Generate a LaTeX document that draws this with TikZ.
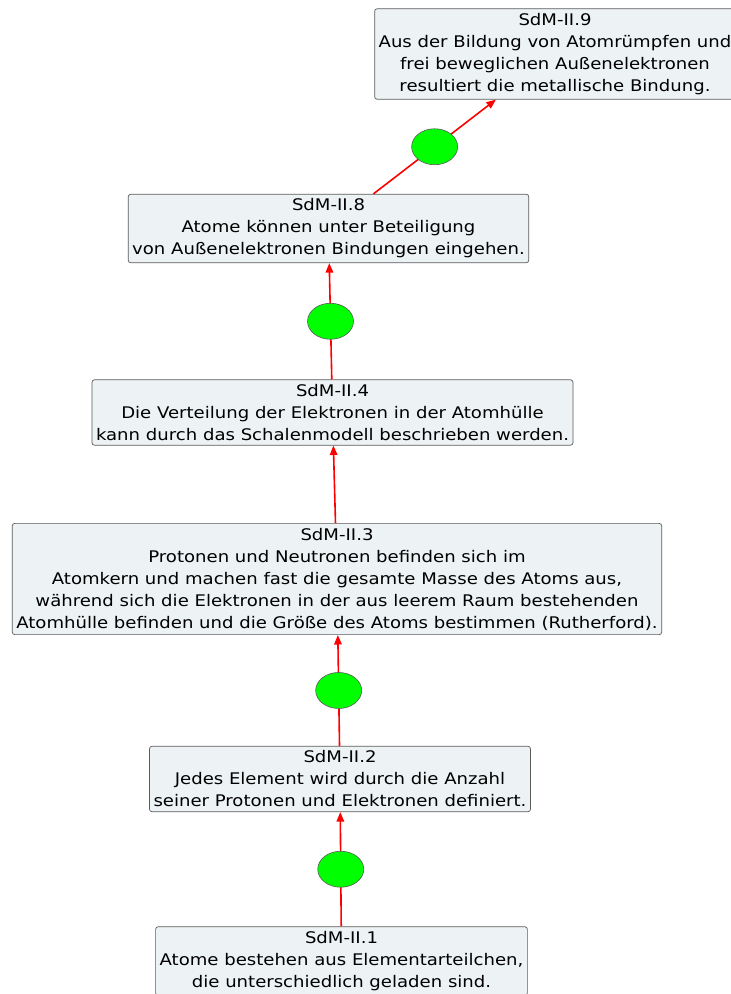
\documentclass[tikz,border=0pt]{standalone}
\usepackage{fontspec}
\setmainfont[FakeStretch=1.13]{DejaVu Sans}
\usetikzlibrary{arrows.meta, positioning, shapes.geometric}
\definecolor{BoxColor}{HTML}{EDF3F5}
\definecolor{BoxLine}{HTML}{5A5A5A}
\definecolor{DoneColor}{HTML}{00FF00}
\tikzstyle{sdm_box}=[rectangle,
        draw=BoxLine,
        line width=0.7pt,
        fill=BoxColor,
        rounded corners=2.5,
        align=center,
        inner xsep=4pt,
        inner ysep=4.5pt,
        font=\fontsize{16}{22}\selectfont, ]
\tikzstyle{sdm_ok}=[ellipse,
        draw=BoxLine,
        line width=0.6pt,
        fill=DoneColor,
        minimum width=46pt,
        minimum height=36pt,
        inner sep=0pt, ]
\tikzstyle{sdm_dep}=[-{Triangle[length=9.5pt,width=7.5pt]},
        draw=red,
        line width=1.6pt, ]

\begin{document}
\begin{tikzpicture}[x=1pt, y=1pt]
    \useasboundingbox (0,0) rectangle (731,-994);

    \node at (555, -54) (S9) [sdm_box] {SdM-II.9\\Aus der Bildung von Atomrümpfen und\\frei beweglichen Außenelektronen\\resultiert die metallische Bindung.};
    \node at (328.5, -228.5) (S8) [sdm_box] {SdM-II.8\\Atome können unter Beteiligung\\von Außenelektronen Bindungen eingehen.};
    \node at (332.5, -412.5) (S4) [sdm_box] {SdM-II.4\\Die Verteilung der Elektronen in der Atomhülle\\kann durch das Schalenmodell beschrieben werden.};
    \node at (337, -579) (S3) [sdm_box] {SdM-II.3\\Protonen und Neutronen befinden sich im\\Atomkern und machen fast die gesamte Masse des Atoms aus,\\während sich die Elektronen in der aus leerem Raum bestehenden\\Atomhülle befinden und die Größe des Atoms bestimmen (Rutherford).};
    \node at (340, -779) (S2) [sdm_box] {SdM-II.2\\Jedes Element wird durch die Anzahl\\seiner Protonen und Elektronen definiert.};
    \node at (341.5, -961) (S1) [sdm_box] {SdM-II.1\\Atome bestehen aus Elementarteilchen,\\die unterschiedlich geladen sind.};

    \draw[sdm_dep] (S8) -- node (E98) [sdm_ok] {} (S9);
    \draw[sdm_dep] (S4) -- node (E84) [sdm_ok] {} (S8);
    \draw[sdm_dep] (S3) -- (S4);
    \draw[sdm_dep] (S2) -- node (E32) [sdm_ok] {} (S3);
    \draw[sdm_dep] (S1) -- node (E21) [sdm_ok] {} (S2);

\end{tikzpicture}
\end{document}
